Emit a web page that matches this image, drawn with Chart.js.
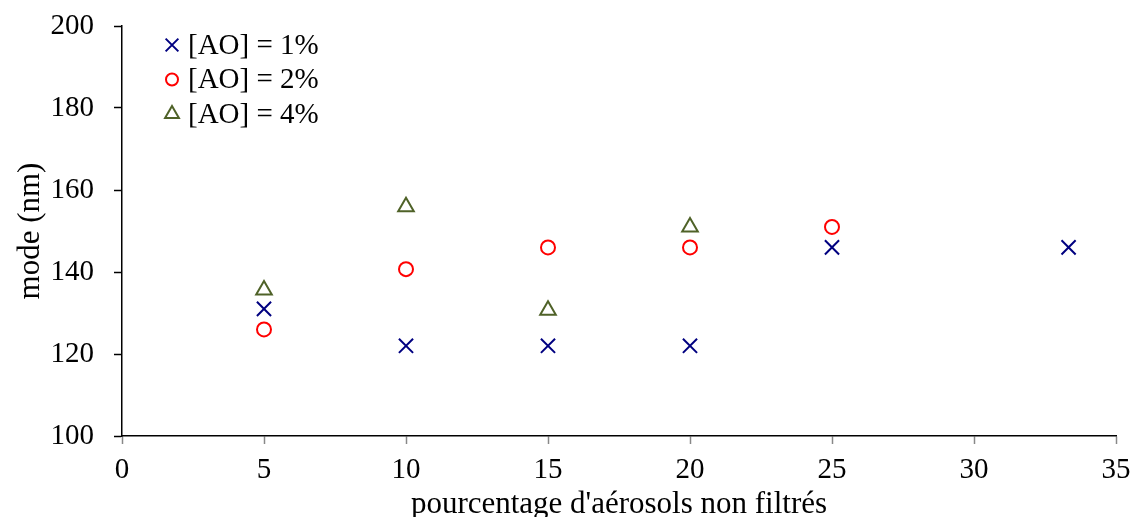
<!DOCTYPE html>
<html>
<head>
<meta charset="utf-8">
<script src="https://cdn.jsdelivr.net/npm/chart.js@4/dist/chart.umd.min.js"></script>
<style>
  html, body { margin: 0; padding: 0; background: #fff; }
  #wrap { width: 1136px; height: 517px; }
</style>
</head>
<body>
<div id="wrap"><canvas id="modeChart"></canvas></div>
<script>
var labels = ['[AO] = 1%', '[AO] = 2%', '[AO] = 4%'];
var x1 = [5, 10, 15, 20, 25, 33.33];
var y1 = [131, 122, 122, 122, 146, 146];
var x2 = [5, 10, 15, 20, 25];
var y2 = [126, 140.7, 146, 146, 151];
var x3 = [5, 10, 15, 20];
var y3 = [135.6, 155.9, 130.7, 151];
var xTicks = [0, 5, 10, 15, 20, 25, 30, 35];
var yTicks = [100, 120, 140, 160, 180, 200];

function pts(xs, ys) {
    return xs.map(function (x, i) { return { x: x, y: ys[i] }; });
}

var fontName = "'Liberation Serif', serif";
var fontSize = 29;
var titleSize = 31;

// legend drawn inside the plot area, upper left
var innerLegend = {
    id: 'innerLegend',
    afterDraw: function (chart) {
        var ctx = chart.ctx;
        var area = chart.chartArea;
        ctx.save();
        ctx.font = fontSize + 'px ' + fontName;
        ctx.textBaseline = 'middle';
        chart.data.datasets.forEach(function (ds, i) {
            var cy = area.top + 19 + i * 34.5;
            var cx = area.left + 50;
            ctx.strokeStyle = ds.borderColor;
            ctx.fillStyle = 'rgba(0,0,0,0)';
            ctx.lineWidth = ds.pointBorderWidth;
            Chart.helpers.drawPoint(ctx, {
                pointStyle: ds.pointStyle,
                radius: ds.pointRadius - 1,
                rotation: ds.rotation || 0,
                borderWidth: ds.pointBorderWidth
            }, cx, cy);
            ctx.fillStyle = '#000';
            ctx.fillText(ds.label, cx + 16, cy + 1);
        });
        ctx.restore();
    }
};

new Chart(document.getElementById('modeChart'), {
    type: 'scatter',
    data: {
        datasets: [{
            label: labels[0],
            data: pts(x1, y1),
            pointStyle: 'cross',
            rotation: 45,
            pointRadius: 10,
            pointBorderWidth: 2,
            borderColor: '#000080',
            backgroundColor: 'rgba(0,0,0,0)'
        }, {
            label: labels[1],
            data: pts(x2, y2),
            pointStyle: 'circle',
            pointRadius: 7,
            pointBorderWidth: 2,
            borderColor: '#ff0000',
            backgroundColor: 'rgba(0,0,0,0)'
        }, {
            label: labels[2],
            data: pts(x3, y3),
            pointStyle: 'triangle',
            pointRadius: 9,
            pointBorderWidth: 2,
            borderColor: '#4f6228',
            backgroundColor: 'rgba(0,0,0,0)'
        }]
    },
    options: {
        responsive: true,
        maintainAspectRatio: false,
        animation: false,
        layout: { padding: { top: 26, right: 20, left: 12, bottom: 0 } },
        plugins: {
            legend: { display: false },
            tooltip: { enabled: false }
        },
        scales: {
            x: {
                type: 'linear',
                min: 0,
                max: 35,
                afterBuildTicks: function (axis) {
                    axis.ticks = xTicks.map(function (v) { return { value: v }; });
                },
                afterFit: function (axis) {
                    axis.height = 81;
                    axis.paddingLeft = 0;
                    axis.paddingRight = 0;
                },
                border: { color: '#000', width: 1.5 },
                grid: { drawOnChartArea: false, tickLength: 8, color: '#888', tickWidth: 1.5 },
                ticks: { color: '#000', font: { family: fontName, size: fontSize }, padding: 9, maxRotation: 0 },
                title: {
                    display: true,
                    text: "pourcentage d'aérosols non filtrés",
                    color: '#000',
                    font: { family: fontName, size: titleSize },
                    padding: { top: 0, bottom: -6 }
                }
            },
            y: {
                type: 'linear',
                min: 100,
                max: 200,
                afterBuildTicks: function (axis) {
                    axis.ticks = yTicks.map(function (v) { return { value: v }; });
                },
                afterFit: function (axis) {
                    axis.width = 110;
                    axis.paddingTop = 0;
                    axis.paddingBottom = 0;
                },
                border: { color: '#000', width: 1.5 },
                grid: { drawOnChartArea: false, tickLength: 8, color: '#000', tickWidth: 1.5 },
                ticks: { color: '#000', font: { family: fontName, size: fontSize }, padding: 20 },
                title: {
                    display: true,
                    text: 'mode (nm)',
                    color: '#000',
                    font: { family: fontName, size: titleSize },
                    padding: { top: 0, bottom: 0 }
                }
            }
        }
    },
    plugins: [innerLegend]
});
</script>
</body>
</html>
